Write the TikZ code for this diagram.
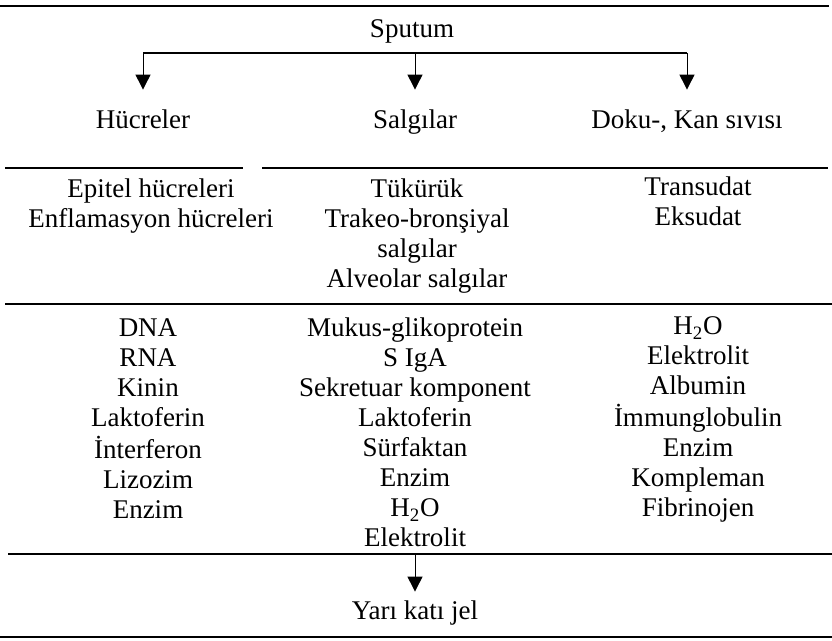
\documentclass[tikz,border=0pt]{standalone}
\usepackage{fontspec}
\setmainfont{Liberation Serif}
\usetikzlibrary{arrows.meta}
\begin{document}
\begin{tikzpicture}[x=0.5pt, y=-0.5pt, node distance={136pt},
    main/.style = {font=\fontsize{13.5}{15}\selectfont, text height=9pt, text depth=3pt, inner sep=0pt},
    signal/.style = {font=\fontsize{13.5}{15}\selectfont, anchor=base, inner sep=0pt},
    rule/.style = {line width=0.8pt},
    arr/.style = {-{Triangle[length=7.5pt, width=7.5pt]}, line width=0.5pt}]
    \useasboundingbox (0,0) rectangle (832,641);
    \node[main] (1) at (412,32) {Sputum};
    \node[main] (3) at (415,123) {Salgılar};
    \node[main] (2) [left of=3] {Hücreler};
    \node[main] (4) [right of=3] {Doku-, Kan sıvısı};
    \coordinate (b2) at (2 |- 0,53);
    \coordinate (b3) at (3 |- 0,53);
    \coordinate (b4) at (4 |- 0,53);
    \node[signal] (5) at (151,198) {
            \begin{tabular}[t]{c}
            Epitel hücreleri \\
            Enflamasyon hücreleri \\
            \end{tabular}
    };
    \node[signal] (6) at (417,198) {
            \begin{tabular}[t]{c}
            Tükürük \\
            Trakeo-bronşiyal \\
            salgılar \\
            Alveolar salgılar \\
            \end{tabular}
    };
    \node[signal] (7) at (698,196) {
            \begin{tabular}[t]{c}
            Transudat \\
            Eksudat \\
            \end{tabular}
    };
    \node[signal] (8) at (148,337) {
            \begin{tabular}[t]{c}
            DNA \\
            RNA \\
            Kinin \\
            Laktoferin \\
            İnterferon \\
            Lizozim \\
            Enzim \\
            \end{tabular}
    };
    \node[signal] (9) at (415,337) {
            \begin{tabular}[t]{c}
            Mukus-glikoprotein \\
            S IgA \\
            Sekretuar komponent \\
            Laktoferin \\
            Sürfaktan \\
            Enzim \\
            H\textsubscript{2}O \\
            Elektrolit \\
            \end{tabular}
    };
    \node[signal] (10) at (698,335) {
            \begin{tabular}[t]{c}
            H\textsubscript{2}O \\
            Elektrolit \\
            Albumin \\
            İmmunglobulin \\
            Enzim \\
            Kompleman \\
            Fibrinojen \\
            \end{tabular}
    };
    \node[main] (11) at (415,614) {Yarı katı jel};
    \coordinate (c) at (11 |- 0,554);
    \draw[rule] (0,6) -- (829,6);
    \draw[rule] (b2) -- (b4);
    \draw[rule] (5,168) -- (243,168);
    \draw[rule] (262,168) -- (828,168);
    \draw[rule] (5,304) -- (832,304);
    \draw[rule] (8,554) -- (832,554);
    \draw[rule] (0,637) -- (832,637);
    \draw[arr, shorten >=10.5pt] (b2) -- (2);
    \draw[arr, shorten >=10.5pt] (b3) -- (3);
    \draw[arr, shorten >=10.5pt] (b4) -- (4);
    \draw[arr, shorten >=5pt] (c) -- (11);
\end{tikzpicture}
\end{document}
